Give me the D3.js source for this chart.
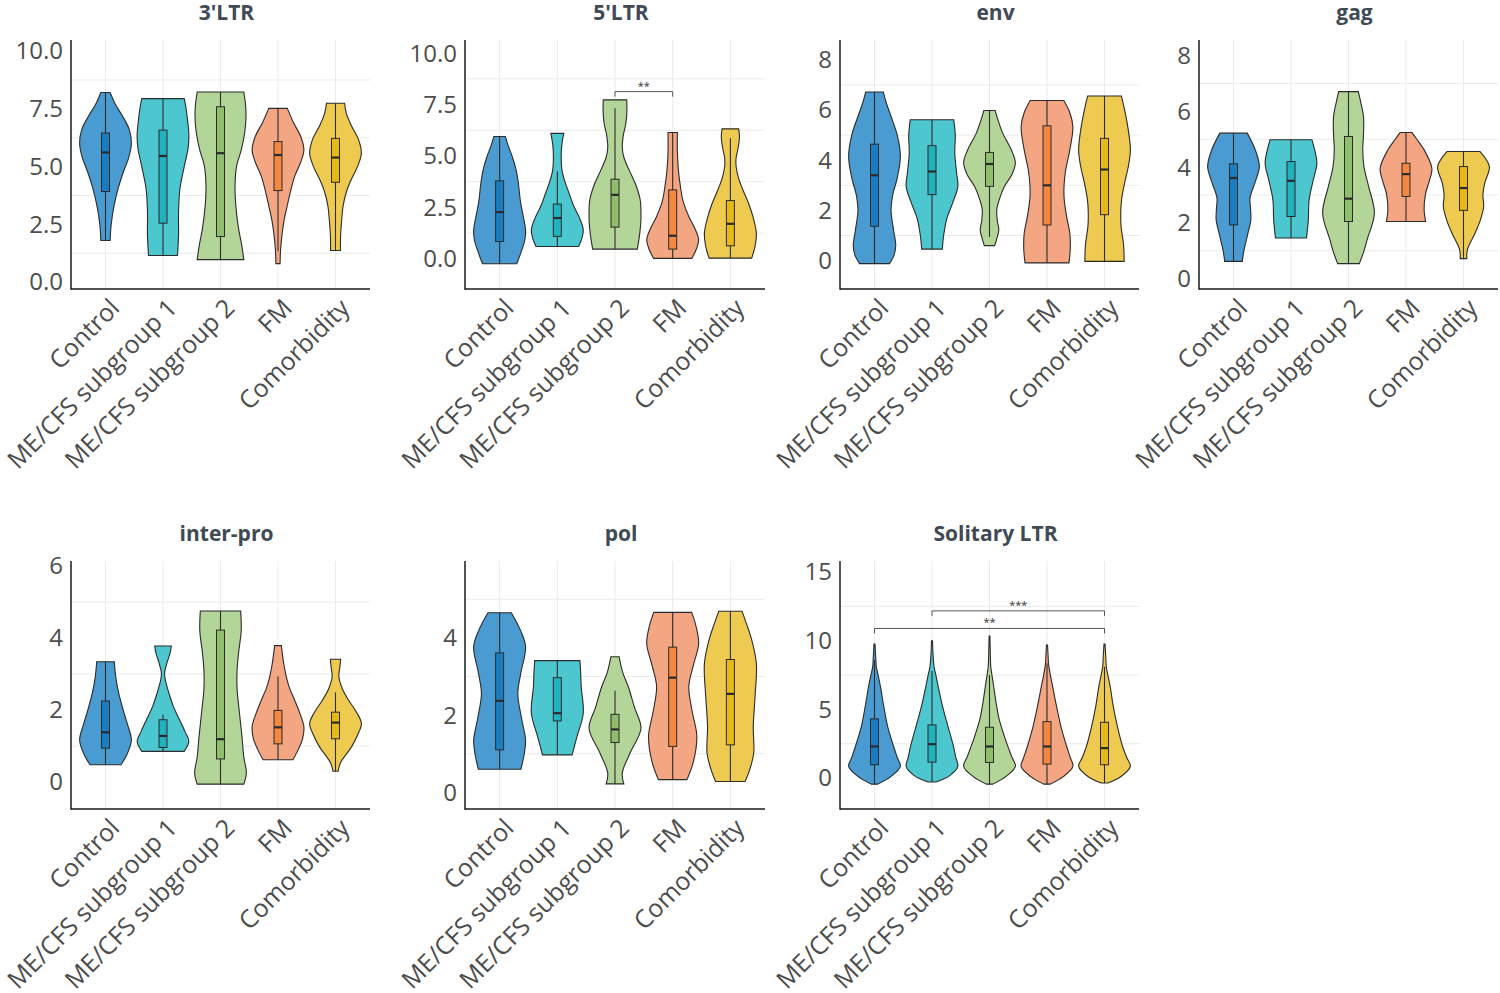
<!DOCTYPE html>
<html>
<head>
<meta charset="utf-8">
<script src="https://cdn.jsdelivr.net/npm/d3@7"></script>
<style>
  html, body { margin: 0; padding: 0; background: #fff; }
  svg { display: block; font-family: "Open Sans", "Noto Sans", sans-serif; }
</style>
</head>
<body>
<svg id="chart" width="1500" height="993"></svg>
<script>
// ---------------- DATA ----------------
const groups = ["Control", "ME/CFS subgroup 1", "ME/CFS subgroup 2", "FM", "Comorbidity"];
const titles = ["3'LTR", "5'LTR", "env", "gag", "inter-pro", "pol", "Solitary LTR"];

// violin profiles: [value, relative half-width]
const ltr3Profiles = [
  [[1.80,0.18],[2.5,0.22],[3.3,0.33],[4.1,0.5],[4.8,0.7],[5.4,0.9],[6.0,1.0],[6.6,0.92],[7.2,0.65],[7.7,0.38],[8.21,0.18]],
  [[1.15,0.56],[2.0,0.6],[3.0,0.6],[4.0,0.65],[5.0,0.82],[5.8,0.97],[6.4,1.0],[7.0,0.95],[7.6,0.88],[7.94,0.82]],
  [[0.97,0.9],[1.6,0.82],[2.3,0.7],[3.2,0.6],[4.1,0.56],[5.0,0.62],[5.8,0.82],[6.7,0.96],[7.5,0.98],[8.23,0.9]],
  [[0.8,0.08],[1.4,0.1],[2.1,0.16],[2.7,0.24],[3.27,0.35],[4.0,0.5],[4.6,0.65],[5.2,0.88],[5.72,1.0],[6.3,0.88],[6.9,0.6],[7.52,0.36]],
  [[1.37,0.19],[2.1,0.2],[2.7,0.24],[3.27,0.29],[3.9,0.42],[4.42,0.6],[5.0,0.85],[5.58,1.0],[6.2,0.88],[6.8,0.6],[7.3,0.42],[7.74,0.35]]
];
// box stats: [whiskerLow, q1, median, q3, whiskerHigh]
const ltr3Boxes = [
  [1.80,3.92,5.61,6.45,8.21],
  [1.15,2.55,5.46,6.58,7.94],
  [0.97,1.97,5.58,7.59,8.23],
  [1.33,3.96,5.50,6.08,7.52],
  [1.37,4.32,5.39,6.22,7.74]
];
const ltr3Ticks = [0, 2.5, 5, 7.5, 10];
const ltr3Grid = [1.25, 3.75, 6.25, 8.75];

const ltr5Profiles = [
  [[-0.24,0.66],[0.3,0.82],[0.9,0.97],[1.4,1.0],[2.0,0.92],[2.8,0.8],[3.6,0.73],[4.3,0.64],[5.0,0.48],[5.5,0.33],[5.95,0.22]],
  [[0.6,0.82],[1.0,0.95],[1.41,1.0],[2.0,0.85],[2.6,0.62],[3.2,0.45],[3.8,0.28],[4.3,0.18],[5.0,0.15],[5.6,0.18],[6.1,0.25]],
  [[0.47,0.86],[1.2,0.95],[2.0,1.0],[2.87,0.97],[3.6,0.8],[4.3,0.55],[4.9,0.35],[5.4,0.28],[6.0,0.32],[6.6,0.42],[7.25,0.46],[7.73,0.45]],
  [[0.02,0.74],[0.5,0.92],[0.92,1.0],[1.4,0.88],[2.06,0.62],[2.8,0.4],[3.5,0.3],[4.3,0.22],[5.2,0.18],[6.14,0.18]],
  [[0.03,0.82],[0.6,0.95],[1.25,1.0],[2.0,0.88],[2.7,0.7],[3.3,0.5],[3.9,0.32],[4.5,0.22],[4.9,0.22],[5.4,0.3],[5.95,0.35],[6.32,0.32]]
];
const ltr5Boxes = [
  [-0.24,0.84,2.27,3.79,5.95],
  [0.60,1.09,1.98,2.66,4.24],
  [0.47,1.54,3.11,3.87,7.32],
  [0.02,0.47,1.12,3.35,6.14],
  [0.03,0.63,1.70,2.83,5.86]
];
const ltr5Ticks = [0, 2.5, 5, 7.5, 10];
const ltr5Grid = [1.25, 3.75, 6.25, 8.75];
const ltr5Brackets = [[2, 3, 8.13, "**"]];

const envProfiles = [
  [[-0.12,0.58],[0.2,0.75],[0.6,0.82],[1.2,0.74],[2.0,0.64],[2.6,0.7],[3.3,0.88],[4.15,1.0],[5.0,0.88],[5.8,0.62],[6.3,0.45],[6.72,0.34]],
  [[0.46,0.4],[1.0,0.45],[1.7,0.58],[2.3,0.8],[2.96,1.0],[3.5,0.95],[4.3,0.88],[5.0,0.9],[5.61,0.84]],
  [[0.6,0.2],[0.94,0.3],[1.23,0.36],[1.6,0.3],[2.03,0.28],[2.5,0.4],[2.96,0.58],[3.4,0.85],[3.89,1.0],[4.4,0.85],[5.08,0.51],[5.6,0.33],[5.98,0.22]],
  [[-0.09,0.85],[0.5,0.9],[1.1,0.88],[1.8,0.75],[2.5,0.66],[3.0,0.66],[3.6,0.72],[4.4,0.88],[5.34,1.0],[5.9,0.88],[6.38,0.65]],
  [[-0.03,0.76],[0.4,0.75],[0.7,0.73],[1.37,0.64],[2.0,0.63],[2.43,0.66],[3.2,0.8],[3.8,0.93],[4.42,1.0],[5.2,0.92],[5.9,0.8],[6.56,0.65]]
];
const envBoxes = [
  [-0.12,1.37,3.40,4.64,6.72],
  [0.46,2.63,3.55,4.58,5.61],
  [0.94,2.96,3.85,4.31,5.98],
  [-0.09,1.42,3.00,5.37,6.38],
  [-0.03,1.83,3.63,4.87,6.56]
];
const envTicks = [0, 2, 4, 6, 8];
const envGrid = [1, 3, 5, 7];

const gagProfiles = [
  [[0.62,0.34],[1.0,0.4],[1.6,0.55],[2.11,0.67],[2.5,0.66],[2.9,0.64],[3.5,0.85],[4.02,1.0],[4.6,0.85],[5.22,0.53]],
  [[1.46,0.6],[2.11,0.67],[2.83,0.7],[3.5,0.85],[4.14,1.0],[4.6,0.92],[4.98,0.81]],
  [[0.54,0.42],[1.0,0.6],[1.4,0.72],[2.35,1.0],[3.3,0.78],[4.0,0.6],[4.62,0.55],[5.2,0.58],[5.81,0.58],[6.3,0.48],[6.71,0.38]],
  [[2.05,0.76],[2.47,0.7],[3.07,0.76],[3.5,0.9],[3.96,1.0],[4.62,0.7],[5.0,0.42],[5.24,0.23]],
  [[0.72,0.13],[1.04,0.15],[1.64,0.45],[2.1,0.65],[2.59,0.78],[3.0,0.75],[3.43,0.82],[4.02,1.0],[4.56,0.64]]
];
const gagBoxes = [
  [0.62,1.93,3.61,4.12,5.22],
  [1.46,2.23,3.51,4.20,4.98],
  [0.54,2.05,2.87,5.10,6.71],
  [2.05,2.95,3.75,4.14,5.24],
  [0.72,2.45,3.25,4.02,4.56]
];
const gagTicks = [0, 2, 4, 6, 8];
const gagGrid = [1, 3, 5, 7];

const interProfiles = [
  [[0.48,0.6],[0.8,0.85],[1.17,1.0],[1.6,0.85],[1.91,0.72],[2.47,0.51],[2.9,0.4],[3.34,0.34]],
  [[0.85,0.82],[1.13,1.0],[1.4,0.85],[1.73,0.64],[2.1,0.4],[2.47,0.23],[2.8,0.1],[3.02,0.06],[3.3,0.15],[3.6,0.28],[3.78,0.32]],
  [[-0.06,0.9],[0.25,1.0],[0.7,0.9],[1.26,0.83],[2.0,0.72],[2.6,0.64],[3.1,0.64],[3.6,0.7],[4.2,0.8],[4.75,0.78]],
  [[0.62,0.58],[0.9,0.78],[1.2,0.95],[1.54,1.0],[1.9,0.85],[2.28,0.64],[2.6,0.45],[2.93,0.32],[3.3,0.22],[3.79,0.13]],
  [[0.3,0.1],[0.53,0.19],[0.99,0.63],[1.3,0.85],[1.63,1.0],[1.95,0.8],[2.28,0.5],[2.6,0.26],[2.93,0.13],[3.2,0.17],[3.41,0.2]]
];
const interBoxes = [
  [0.48,0.94,1.38,2.25,3.34],
  [0.85,0.96,1.28,1.73,1.87],
  [-0.06,0.64,1.19,4.22,4.75],
  [0.62,1.06,1.52,1.99,2.93],
  [0.30,1.20,1.65,1.94,2.49]
];
const interTicks = [0, 2, 4, 6];
const interGrid = [1, 3, 5];

const polProfiles = [
  [[0.6,0.82],[1.0,0.95],[1.36,1.0],[1.9,0.85],[2.56,0.7],[3.1,0.82],[3.77,1.0],[4.2,0.8],[4.65,0.45]],
  [[0.97,0.57],[1.45,0.76],[2.05,1.0],[2.74,0.92],[3.1,0.9],[3.41,0.87]],
  [[0.22,0.34],[0.5,0.28],[1.02,0.58],[1.66,1.0],[2.2,0.75],[2.74,0.51],[3.1,0.3],[3.51,0.16]],
  [[0.33,0.55],[0.8,0.8],[1.45,0.93],[2.1,0.75],[2.74,0.62],[3.3,0.8],[3.85,1.0],[4.3,0.9],[4.66,0.73]],
  [[0.28,0.57],[0.6,0.75],[1.02,0.9],[1.7,0.88],[2.48,0.95],[3.34,1.0],[4.0,0.8],[4.4,0.6],[4.69,0.45]]
];
const polBoxes = [
  [0.60,1.10,2.37,3.61,4.65],
  [0.97,1.85,2.05,2.97,3.41],
  [0.22,1.29,1.63,2.02,2.63],
  [0.33,1.19,2.97,3.76,4.66],
  [0.28,1.23,2.55,3.44,4.69]
];
const polTicks = [0, 2, 4];
const polGrid = [1, 3, 5];

const solProfiles = [
  [[-0.44,0.13],[0.12,0.64],[0.85,1.0],[1.5,0.88],[2.3,0.74],[3.75,0.51],[5.2,0.36],[6.65,0.23],[7.5,0.14],[8.1,0.07],[8.7,0.05],[9.75,0.02]],
  [[-0.29,0.15],[0.2,0.7],[0.85,1.0],[1.5,0.92],[2.3,0.83],[3.75,0.62],[5.2,0.41],[6.65,0.24],[7.5,0.15],[8.1,0.08],[9.0,0.04],[9.99,0.02]],
  [[-0.44,0.13],[0.12,0.64],[0.85,1.0],[1.6,0.85],[2.78,0.62],[4.23,0.38],[5.3,0.27],[6.17,0.2],[7.2,0.12],[8.1,0.05],[9.2,0.03],[10.33,0.015]],
  [[-0.44,0.13],[0.12,0.64],[0.85,1.0],[1.5,0.9],[2.3,0.76],[3.75,0.54],[5.2,0.37],[6.65,0.22],[7.5,0.13],[8.3,0.06],[9.0,0.04],[9.68,0.02]],
  [[-0.36,0.13],[0.12,0.64],[0.85,1.0],[1.5,0.86],[2.3,0.7],[3.75,0.5],[5.2,0.34],[6.65,0.22],[7.5,0.13],[8.1,0.07],[8.8,0.05],[9.75,0.02]]
];
const solBoxes = [
  [-0.44,0.97,2.30,4.31,8.59],
  [-0.29,1.16,2.47,3.87,7.80],
  [-0.44,1.14,2.30,3.70,7.50],
  [-0.44,1.02,2.30,4.11,8.35],
  [-0.36,0.97,2.18,4.06,8.10]
];
const solTicks = [0, 5, 10, 15];
const solGrid = [2.5, 7.5, 12.5];
const solBrackets = [[1, 4, 12.17, "***"], [0, 4, 10.89, "**"]];

// ---------------- STYLE / LAYOUT ----------------
const violinColors = ["#4a9bd1", "#4cc7cf", "#b3d597", "#f4a683", "#eecb50"];
const boxColors    = ["#1b7cc0", "#22b2bd", "#8fbf6c", "#f58840", "#e6b916"];

const panels = [
  { title: titles[0], prof: ltr3Profiles,  box: ltr3Boxes,  ticks: ltr3Ticks,  grid: ltr3Grid,  dom: [-0.30, 10.48], fmt: ".1f", rect: [71, 40, 370, 289],       br: [] },
  { title: titles[1], prof: ltr5Profiles,  box: ltr5Boxes,  ticks: ltr5Ticks,  grid: ltr5Grid,  dom: [-1.47, 10.64], fmt: ".1f", rect: [465, 40, 765, 289],      br: ltr5Brackets },
  { title: titles[2], prof: envProfiles,   box: envBoxes,   ticks: envTicks,   grid: envGrid,   dom: [-1.13, 8.79],  fmt: "d",   rect: [840, 40, 1139, 289],     br: [] },
  { title: titles[3], prof: gagProfiles,   box: gagBoxes,   ticks: gagTicks,   grid: gagGrid,   dom: [-0.37, 8.56],  fmt: "d",   rect: [1199, 40, 1498, 289],    br: [] },
  { title: titles[4], prof: interProfiles, box: interBoxes, ticks: interTicks, grid: interGrid, dom: [-0.75, 6.14],  fmt: "d",   rect: [71, 561, 370, 809],      br: [] },
  { title: titles[5], prof: polProfiles,   box: polBoxes,   ticks: polTicks,   grid: polGrid,   dom: [-0.43, 5.99],  fmt: "d",   rect: [465, 561, 765, 809],     br: [] },
  { title: titles[6], prof: solProfiles,   box: solBoxes,   ticks: solTicks,   grid: solGrid,   dom: [-2.25, 15.8],  fmt: "d",   rect: [840, 561, 1139, 809],    br: solBrackets }
];

const svg = d3.select("#chart");

panels.forEach(p => {
  const [x0, y0, x1, y1] = p.rect;
  const g = svg.append("g");
  const x = d3.scalePoint().domain(d3.range(groups.length)).range([x0, x1]).padding(0.6);
  const y = d3.scaleLinear().domain(p.dom).range([y1, y0]);
  const hw = x.step() * 0.45;
  const bw = 4;

  // grid
  g.selectAll(".vg").data(d3.range(groups.length)).join("line")
    .attr("x1", i => x(i)).attr("x2", i => x(i)).attr("y1", y0).attr("y2", y1)
    .attr("stroke", "#ebebeb").attr("stroke-width", 1);
  g.selectAll(".hg").data(p.grid).join("line")
    .attr("x1", x0).attr("x2", x1).attr("y1", d => y(d)).attr("y2", d => y(d))
    .attr("stroke", "#ebebeb").attr("stroke-width", 1);

  // violins
  p.prof.forEach((prof, i) => {
    const cx = x(i);
    const area = d3.area().curve(d3.curveCatmullRom.alpha(0.5))
      .y(d => y(d[0])).x0(d => cx - d[1] * hw).x1(d => cx + d[1] * hw);
    g.append("path").attr("d", area(prof))
      .attr("fill", violinColors[i]).attr("stroke", "#2b2b2b").attr("stroke-width", 1.1);
  });

  // boxplots
  p.box.forEach((b, i) => {
    const cx = x(i);
    g.append("line").attr("x1", cx).attr("x2", cx).attr("y1", y(b[0])).attr("y2", y(b[4]))
      .attr("stroke", "#2b2b2b").attr("stroke-width", 1.1);
    g.append("rect").attr("x", cx - bw).attr("width", bw * 2)
      .attr("y", y(b[3])).attr("height", y(b[1]) - y(b[3]))
      .attr("fill", boxColors[i]).attr("stroke", "#2b2b2b").attr("stroke-width", 1);
    g.append("line").attr("x1", cx - bw).attr("x2", cx + bw).attr("y1", y(b[2])).attr("y2", y(b[2]))
      .attr("stroke", "#2b2b2b").attr("stroke-width", 2.2);
  });

  // brackets
  p.br.forEach(b => {
    const xa = x(b[0]), xb = x(b[1]), yy = y(b[2]);
    g.append("path").attr("d", `M${xa},${yy + 5}V${yy}H${xb}V${yy + 5}`)
      .attr("fill", "none").attr("stroke", "#555").attr("stroke-width", 1);
    g.append("text").attr("x", (xa + xb) / 2).attr("y", yy - 2)
      .attr("text-anchor", "middle").attr("font-size", 11).attr("fill", "#333").text(b[3]);
  });

  // axes lines
  g.append("line").attr("x1", x0).attr("x2", x0).attr("y1", y0).attr("y2", y1 + 0.75)
    .attr("stroke", "#1a1a1a").attr("stroke-width", 1.5);
  g.append("line").attr("x1", x0).attr("x2", x1).attr("y1", y1).attr("y2", y1)
    .attr("stroke", "#1a1a1a").attr("stroke-width", 1.5);

  // y tick labels
  const f = d3.format(p.fmt);
  g.selectAll(".yt").data(p.ticks).join("text")
    .attr("x", x0 - 8).attr("y", d => y(d)).attr("dy", "0.35em")
    .attr("text-anchor", "end").attr("font-size", 24).attr("fill", "#4d4d4d")
    .text(d => f(d));

  // x tick labels
  g.selectAll(".xt").data(groups).join("text")
    .attr("transform", (d, i) => `translate(${x(i) + 3},${y1 + 8}) rotate(-45)`)
    .attr("dy", "0.71em").attr("text-anchor", "end")
    .attr("font-size", 25).attr("fill", "#4d4d4d")
    .text(d => d);

  // title
  g.append("text").attr("x", (x0 + x1) / 2 + 6).attr("y", y0 - 28).attr("dy", "0.36em")
    .attr("text-anchor", "middle").attr("font-size", 21).attr("font-weight", "bold")
    .attr("fill", "#3f4a54").text(p.title);
});
</script>
</body>
</html>
